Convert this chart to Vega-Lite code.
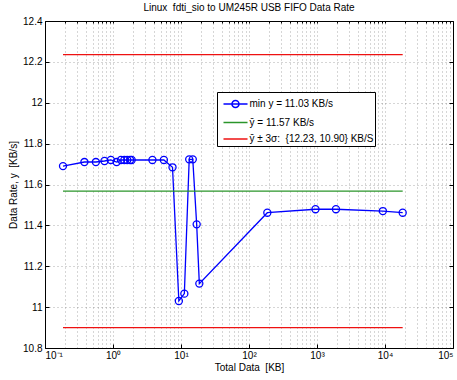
{
  "$schema": "https://vega.github.io/schema/vega-lite/v6.json",
  "width": 408,
  "height": 327,
  "autosize": {"type": "none"},
  "padding": {"left": 45, "top": 21, "right": 4, "bottom": 32},
  "background": "white",
  "title": {"text": "Linux\u00a0 fdti_sio to UM245R USB FIFO Data Rate", "font": "Liberation Sans", "fontSize": 10, "fontWeight": "normal", "color": "black", "offset": 3},
  "config": {
    "view": {"stroke": null},
    "axis": {"labelFont": "Liberation Sans", "titleFont": "Liberation Sans", "labelFontSize": 10, "titleFontSize": 10, "labelColor": "black", "titleColor": "black", "titleFontWeight": "normal", "domainColor": "black", "domainWidth": 1, "tickColor": "black"},
    "legend": {"labelFont": "Liberation Sans", "labelFontSize": 10, "labelColor": "black"}
  },
  "data": {"values": [
    {"s": "min y = 11.03 KB/s", "g": "blue", "x": 0.184, "y": 11.69},
    {"s": "min y = 11.03 KB/s", "g": "blue", "x": 0.38, "y": 11.71},
    {"s": "min y = 11.03 KB/s", "g": "blue", "x": 0.56, "y": 11.71},
    {"s": "min y = 11.03 KB/s", "g": "blue", "x": 0.75, "y": 11.715},
    {"s": "min y = 11.03 KB/s", "g": "blue", "x": 0.93, "y": 11.72},
    {"s": "min y = 11.03 KB/s", "g": "blue", "x": 1.13, "y": 11.71},
    {"s": "min y = 11.03 KB/s", "g": "blue", "x": 1.31, "y": 11.72},
    {"s": "min y = 11.03 KB/s", "g": "blue", "x": 1.47, "y": 11.72},
    {"s": "min y = 11.03 KB/s", "g": "blue", "x": 1.62, "y": 11.72},
    {"s": "min y = 11.03 KB/s", "g": "blue", "x": 1.78, "y": 11.72},
    {"s": "min y = 11.03 KB/s", "g": "blue", "x": 1.88, "y": 11.72},
    {"s": "min y = 11.03 KB/s", "g": "blue", "x": 3.8, "y": 11.72},
    {"s": "min y = 11.03 KB/s", "g": "blue", "x": 5.6, "y": 11.72},
    {"s": "min y = 11.03 KB/s", "g": "blue", "x": 7.5, "y": 11.684},
    {"s": "min y = 11.03 KB/s", "g": "blue", "x": 9.3, "y": 11.03},
    {"s": "min y = 11.03 KB/s", "g": "blue", "x": 11.2, "y": 11.066},
    {"s": "min y = 11.03 KB/s", "g": "blue", "x": 13.2, "y": 11.723},
    {"s": "min y = 11.03 KB/s", "g": "blue", "x": 14.9, "y": 11.723},
    {"s": "min y = 11.03 KB/s", "g": "blue", "x": 17.0, "y": 11.405},
    {"s": "min y = 11.03 KB/s", "g": "blue", "x": 18.6, "y": 11.115},
    {"s": "min y = 11.03 KB/s", "g": "blue", "x": 186, "y": 11.462},
    {"s": "min y = 11.03 KB/s", "g": "blue", "x": 950, "y": 11.479},
    {"s": "min y = 11.03 KB/s", "g": "blue", "x": 1900, "y": 11.479},
    {"s": "min y = 11.03 KB/s", "g": "blue", "x": 9300, "y": 11.47},
    {"s": "min y = 11.03 KB/s", "g": "blue", "x": 18200, "y": 11.462},
    {"s": "ȳ = 11.57 KB/s", "g": "green", "x": 0.184, "y": 11.568},
    {"s": "ȳ = 11.57 KB/s", "g": "green", "x": 18200, "y": 11.568},
    {"s": "ȳ ± 3σ:\u00a0 {12.23, 10.90} KB/S", "g": "redhi", "x": 0.184, "y": 12.235},
    {"s": "ȳ ± 3σ:\u00a0 {12.23, 10.90} KB/S", "g": "redhi", "x": 18200, "y": 12.235},
    {"s": "ȳ ± 3σ:\u00a0 {12.23, 10.90} KB/S", "g": "redlo", "x": 0.184, "y": 10.90},
    {"s": "ȳ ± 3σ:\u00a0 {12.23, 10.90} KB/S", "g": "redlo", "x": 18200, "y": 10.90}
  ]},
  "layer": [
    {
      "mark": {"type": "line", "strokeWidth": 1.3},
      "encoding": {
        "x": {"field": "x", "type": "quantitative",
          "scale": {"type": "log", "domain": [0.1, 100000]},
          "axis": {"orient": "bottom", "values": [0.1, 1, 10, 100, 1000, 10000, 100000], "grid": false, "tickSize": -4, "labelPadding": 6, "title": "Total Data\u00a0 [KB]", "titlePadding": 2,
            "labelExpr": "datum.value < 0.5 ? '10⁻¹' : datum.value < 5 ? '10⁰' : datum.value < 50 ? '10¹' : datum.value < 500 ? '10²' : datum.value < 5000 ? '10³' : datum.value < 50000 ? '10⁴' : '10⁵'"}},
        "y": {"field": "y", "type": "quantitative",
          "scale": {"domain": [10.8, 12.4], "zero": false, "nice": false},
          "axis": {"orient": "left", "values": [10.8, 11, 11.2, 11.4, 11.6, 11.8, 12, 12.2, 12.4], "format": ".1~f", "tickSize": -4, "labelPadding": 7, "grid": true, "gridColor": "#777", "gridOpacity": 0.6, "gridDash": [1, 3], "title": "Data Rate, y\u00a0 [KB/s]", "titlePadding": 4}},
        "color": {"field": "s", "type": "nominal",
          "scale": {"domain": ["min y = 11.03 KB/s", "ȳ = 11.57 KB/s", "ȳ ± 3σ:\u00a0 {12.23, 10.90} KB/S"], "range": ["#0000ff", "#2a952a", "#ee1111"]},
          "legend": {"title": null, "orient": "none", "legendX": 172, "legendY": 71, "strokeColor": "black", "fillColor": "white", "padding": 1.5, "rowPadding": 0.5, "symbolSize": 361, "symbolStrokeWidth": 1.5, "labelOffset": 10,
            "labelExpr": "datum.label + '\u00a0\u00a0\u00a0\u00a0\u00a0\u00a0\u00a0\u00a0\u00a0\u00a0\u00a0'",
            "encode": {"symbols": {"update": {"shape": {"signal": "datum.value === 'min y = 11.03 KB/s' ? 'M-0.58,0H1.95M1.05,0A0.37,0.37,0,1,1,0.31,0A0.37,0.37,0,1,1,1.05,0' : 'M-0.58,0H1.95'"}, "fill": {"value": "transparent"}}}}}},
        "detail": {"field": "g"}
      }
    },
    {
      "transform": [{"filter": "datum.g === 'blue'"}],
      "mark": {"type": "point", "filled": false, "size": 50, "strokeWidth": 1.3, "color": "#0000ff", "opacity": 1},
      "encoding": {
        "x": {"field": "x", "type": "quantitative",
          "scale": {"type": "log", "domain": [0.1, 100000]},
          "axis": {"orient": "top", "values": [0.1, 0.2, 0.3, 0.4, 0.5, 0.6, 0.7, 0.8, 0.9, 1, 2, 3, 4, 5, 6, 7, 8, 9, 10, 20, 30, 40, 50, 60, 70, 80, 90, 100, 200, 300, 400, 500, 600, 700, 800, 900, 1000, 2000, 3000, 4000, 5000, 6000, 7000, 8000, 9000, 10000, 20000, 30000, 40000, 50000, 60000, 70000, 80000, 90000, 100000], "labels": false, "tickSize": -2, "grid": true, "gridColor": "#777", "gridOpacity": 0.6, "gridDash": [1, 3], "title": null}},
        "y": {"field": "y", "type": "quantitative",
          "scale": {"domain": [10.8, 12.4], "zero": false, "nice": false},
          "axis": {"orient": "right", "values": [10.8, 11, 11.2, 11.4, 11.6, 11.8, 12, 12.2, 12.4], "labels": false, "tickSize": -4, "grid": false, "title": null}}
      }
    }
  ],
  "resolve": {"axis": {"x": "independent", "y": "independent"}}
}
